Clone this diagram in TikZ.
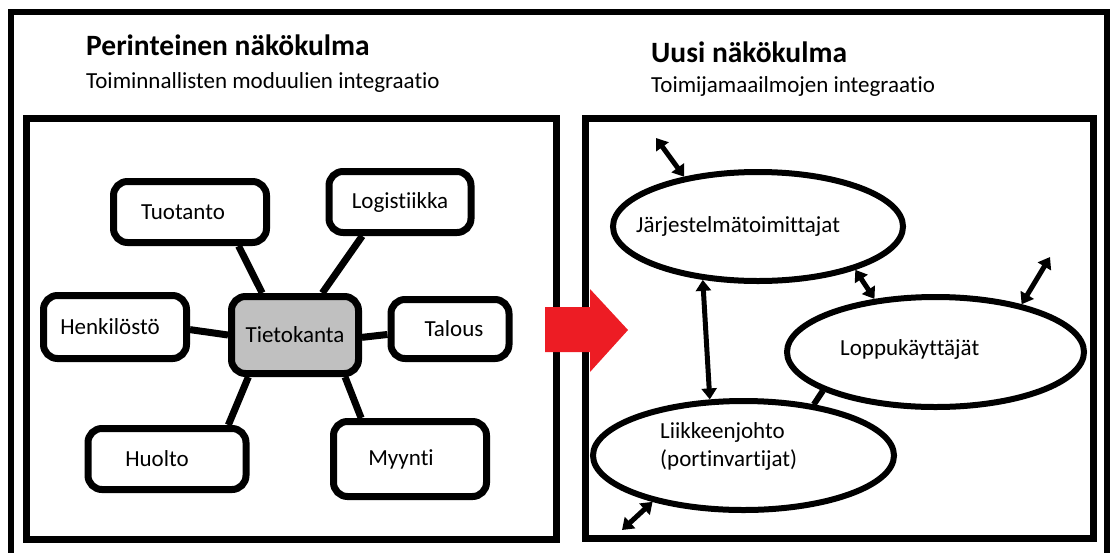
\documentclass[tikz,border=0pt]{standalone}
\usepackage{fontspec}
\setmainfont[Ligatures=NoCommon]{Carlito}
\usetikzlibrary{shapes.geometric,arrows.meta}
\definecolor{hubgray}{RGB}{192,192,192}
\definecolor{shiftred}{RGB}{237,28,36}
\tikzset{
  module/.style={draw,line width=7pt,rounded corners=14pt,fill=white,inner sep=0pt},
  hub/.style={module,fill=hubgray},
  world/.style={draw,ellipse,line width=6pt,inner sep=0pt},
  link/.style={line width=7pt},
  twoway/.style={line width=5pt,{Triangle[length=11pt,width=15pt]}-{Triangle[length=11pt,width=15pt]}}
}
\begin{document}
\begin{tikzpicture}[x=1pt,y=-1pt,font=\fontsize{23}{28}\selectfont]
    \useasboundingbox (0,0) rectangle (1110,552);
    % frames
    \draw[line width=6pt] (11,12) rectangle (1107,562);
    \draw[line width=7pt] (26,118) rectangle (556,539);
    \draw[line width=7pt] (585,118) rectangle (1093,538);
    % headings
    \begin{scope}[every node/.style={anchor=base west,inner sep=0pt}]
        \node[font=\fontsize{29.5}{34}\selectfont\bfseries] (oldhead) at (86,55) {Perinteinen näkökulma};
        \node (oldsub) at (86,88) {Toiminnallisten moduulien integraatio};
        \node[font=\fontsize{29.5}{34}\selectfont\bfseries] (newhead) at (651,62) {Uusi näkökulma};
        \node (newsub) at (651,92) {Toimijamaailmojen integraatio};
    \end{scope}
    % modules round the database
    \node[module,minimum width=153pt,minimum height=61pt] (tuotanto)    at (190,212) {\hspace*{-14pt}Tuotanto};
    \node[module,minimum width=142pt,minimum height=61pt] (logistiikka) at (400,202) {Logistiikka};
    \node[module,minimum width=143pt,minimum height=63pt] (henkilosto)  at (115,327) {\hspace*{-10pt}Henkilöstö};
    \node[hub,minimum width=127pt,minimum height=77pt]    (tieto)       at (295,335) {Tietokanta};
    \node[module,minimum width=118pt,minimum height=59pt] (talous)      at (450,329) {Talous\hspace*{-8pt}};
    \node[module,minimum width=158pt,minimum height=61pt] (huolto)      at (167,459) {\hspace*{-20pt}Huolto};
    \node[module,minimum width=153pt,minimum height=75pt] (myynti)      at (410,459) {\hspace*{-18pt}Myynti};
    \begin{scope}[link]
        \draw (tuotanto.-35) -- (tieto.128);
        \draw (logistiikka.-138) -- (tieto.57);
        \draw (henkilosto.-2) -- (tieto.180);
        \draw (tieto.-2) -- (talous.185);
        \draw (tieto.222) -- (huolto.29);
        \draw (tieto.-40) -- (myynti.140);
    \end{scope}
    % shift
    \fill[shiftred] (545,307) -- (590,307) -- (590,289) -- (628,330) -- (590,372) -- (590,352) -- (545,352) -- cycle;
    % actor worlds
    \node[world,minimum width=290pt,minimum height=109pt] (jarj)  at (758,226.5) {};
    \node[world,minimum width=297pt,minimum height=110pt] (loppu) at (935.5,352) {};
    \node[world,minimum width=301pt,minimum height=109pt] (liike) at (743.5,455.5) {};
    \begin{scope}[every node/.style={anchor=west,inner sep=0pt}]
        \node (jarjtxt)  at (636,226) {Järjestelmätoimittajat};
        \node (lopputxt) at (840,349) {Loppukäyttäjät};
        \node[align=left] (liiketxt) at (660,446) {Liikkeenjohto\\(portinvartijat)};
    \end{scope}
    \coordinate (jfree) at (656,138);
    \coordinate (lfree) at (1050,257);
    \coordinate (kfree) at (622,530);
    \begin{scope}[twoway]
        \draw (jfree) -- (jarj.146);
        \draw (jarj.-24) -- (loppu.139);
        \draw (loppu.29) -- (lfree);
        \draw (jarj.224) -- (liike.121);
        \draw (liike.207) -- (kfree);
    \end{scope}
    \draw[line width=6pt] (loppu.199) -- (liike.36);
\end{tikzpicture}
\end{document}
